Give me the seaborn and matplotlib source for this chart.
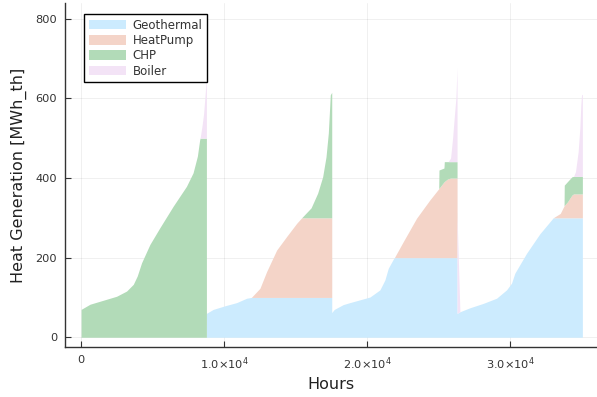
import numpy as np
import matplotlib
matplotlib.use("Agg")
import matplotlib.pyplot as plt
import seaborn as sns

# ---- data (sorted load-duration curves, 4 periods) ----
hours = [1, 627, 1557, 2485, 3180, 3650, 3926, 4227, 4808, 5505, 6435, 7364, 7828, 8130, 8290, 8320,
         8450, 8560, 8650, 8720, 8760,
         8761, 9240, 10056, 10873, 11572, 11900, 12502, 12970, 13669, 14368, 15066, 15416,
         16077, 16537, 16886, 17120, 17282, 17421, 17520,
         17521, 17700, 18323, 18790, 19490, 20189, 20888, 21237, 21470, 21820, 21900,
         22518, 23450, 24382, 25000, 25017, 25365, 25390, 25600, 25660, 25828, 25968, 26080, 26199, 26280,
         26281, 26480, 27176, 28107, 29040, 29740, 30090, 30320, 31140, 32070, 32770, 33000,
         33496, 33760, 33775, 34000, 34309, 34425, 34560, 34745, 34863, 34933, 34982, 35040]
geothermal = [0] * 21 + \
    [60, 70, 79, 87, 98, 100, 100, 100, 100, 100, 100, 100,
     100, 100, 100, 100, 100, 100, 100] + \
    [62, 70, 82, 87, 94, 101, 119, 144, 173, 196, 200,
     200, 200, 200, 200, 200, 200, 200, 200, 200, 200, 200, 200, 200, 200] + \
    [60, 64, 74, 85, 98, 119, 136, 161, 211, 260, 290, 300,
     300, 300, 300, 300, 300, 300, 300, 300, 300, 300, 300, 300]
heatpump = [0] * 21 + \
    [0, 0, 0, 0, 0, 0, 23, 65, 119, 153, 186, 200,
     200, 200, 200, 200, 200, 200, 200] + \
    [0, 0, 0, 0, 0, 0, 0, 0, 0, 0, 0,
     40, 99, 145, 173, 174, 190, 191, 197, 198, 200, 200, 200, 200, 200] + \
    [0, 0, 0, 0, 0, 0, 0, 0, 0, 0, 0, 0,
     11, 30, 31, 40, 57, 60, 60, 60, 60, 60, 60, 60]
chp = [70, 83, 93, 103, 116, 133, 154, 187, 233, 275, 329, 379, 413, 455, 496, 500,
       500, 500, 500, 500, 500] + \
    [0, 0, 0, 0, 0, 0, 0, 0, 0, 0, 0, 0,
     25, 62, 103, 153, 213, 309, 315] + \
    [0, 0, 0, 0, 0, 0, 0, 0, 0, 0, 0,
     0, 0, 0, 0, 46, 35, 50, 44, 43, 41, 41, 41, 41, 41] + \
    [0, 0, 0, 0, 0, 0, 0, 0, 0, 0, 0, 0,
     0, 0, 51, 51, 46, 44, 44, 44, 44, 44, 44, 44]
boiler = [0] * 16 + [30, 60, 100, 135, 150] + \
    [0] * 19 + \
    [0] * 19 + [0, 9, 59, 109, 160, 236, 244] + \
    [0] * 17 + [12, 62, 121, 180, 205, 206]

series_names = ["Geothermal", "HeatPump", "CHP", "Boiler"]
series_colors = ["#CCEBFE", "#F4D4C8", "#B2DBB8", "#F3E3F6"]
x_ticks = [0, 10000, 20000, 30000]
x_tick_labels = ["0", r"$1.0{\times}10^{4}$", r"$2.0{\times}10^{4}$", r"$3.0{\times}10^{4}$"]
y_ticks = [0, 200, 400, 600, 800]

# ---- style ----
sns.set_theme(style="ticks")
plt.rcParams["font.family"] = ["DejaVu Sans"]
plt.rcParams["mathtext.fontset"] = "dejavusans"

fig = plt.figure(figsize=(5.97, 3.97), dpi=100)
ax = fig.add_axes([0.1097, 0.126, 0.890, 0.866])

x = np.asarray(hours, dtype=float)
layers = [np.asarray(v, dtype=float) for v in (geothermal, heatpump, chp, boiler)]
base = np.zeros_like(x)
for vals, name, col in zip(layers, series_names, series_colors):
    top = base + vals
    ax.fill_between(x, base, top, color=col, linewidth=0, label=name, zorder=2)
    base = top

ax.set_xlim(-1090, 36050)
ax.set_ylim(-24.4, 839)
ax.set_xticks(x_ticks)
ax.set_xticklabels(x_tick_labels)
ax.set_yticks(y_ticks)
ax.tick_params(direction="in", length=4, width=0.8, colors="#333333", labelsize=8.2, pad=6)
ax.grid(True, color="#000000", alpha=0.07, linewidth=0.6)
ax.set_axisbelow(True)
for s in ("top", "right"):
    ax.spines[s].set_visible(False)
for s in ("left", "bottom"):
    ax.spines[s].set_color("#333333")
    ax.spines[s].set_linewidth(1.0)

ax.set_xlabel("Hours", fontsize=11.5, color="#222222", labelpad=4)
ax.set_ylabel("Heat Generation [MWh_th]", fontsize=11.5, color="#222222", labelpad=6)

leg = ax.legend(loc="upper left", bbox_to_anchor=(0.0348, 0.969), borderaxespad=0,
                frameon=True, fancybox=False, framealpha=1, edgecolor="#000000",
                fontsize=8.5, handlelength=3.2, handleheight=0.9, labelspacing=0.2,
                handletextpad=0.5, borderpad=0.4)
leg.get_frame().set_linewidth(1.0)
for t in leg.get_texts():
    t.set_color("#333333")

fig.savefig("out.png", dpi=100)
